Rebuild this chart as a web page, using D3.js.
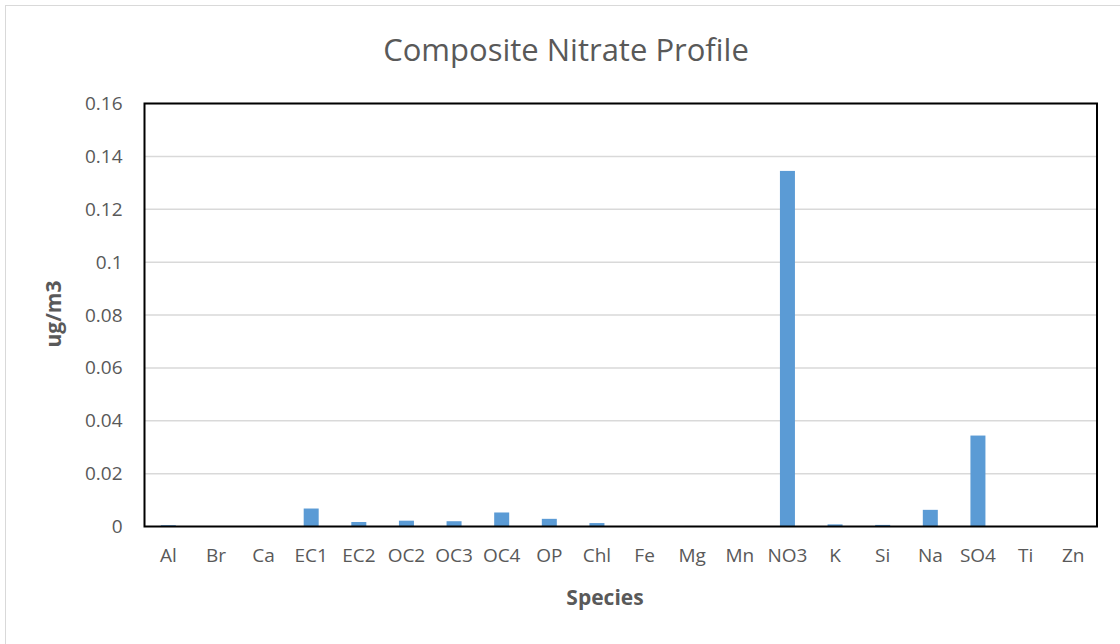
<!DOCTYPE html>
<html>
<head>
<meta charset="utf-8">
<script src="https://cdn.jsdelivr.net/npm/d3@7"></script>
<style>
  body { margin: 0; background: #fff; }
  text { font-family: "Open Sans", sans-serif; fill: #595959; }
</style>
</head>
<body>
<div id="container"></div>
<script>
/* DATA */
const species = ["Al", "Br", "Ca", "EC1", "EC2", "OC2", "OC3", "OC4", "OP", "Chl",
                 "Fe", "Mg", "Mn", "NO3", "K", "Si", "Na", "SO4", "Ti", "Zn"]
const concentration = [0.0005, 0, 0.0002, 0.0068, 0.0017, 0.0022, 0.002, 0.0053, 0.0029, 0.0013,
                       0.0002, 0.0002, 0, 0.1345, 0.0008, 0.0006, 0.0063, 0.0344, 0, 0]
const yTicks = [0, 0.02, 0.04, 0.06, 0.08, 0.1, 0.12, 0.14, 0.16]

/* CONSTANTS */
const W = 1120, H = 644
const margin = {top: 103.5, right: 23, bottom: 117.5, left: 144.5}
const width = W - margin.left - margin.right
const height = H - margin.top - margin.bottom

const svg = d3.select("#container")
  .append("svg")
    .attr("width", W)
    .attr("height", H)

// chart border
svg.append("rect")
  .attr("x", 5.5).attr("y", 5.5)
  .attr("width", W).attr("height", H)
  .attr("fill", "none")
  .attr("stroke", "#d9d9d9")

const g = svg.append("g")
  .attr("transform", "translate(" + margin.left + "," + margin.top + ")")

// SCALES
const xScale = d3.scaleBand()
  .domain(species)
  .range([0, width])
  .paddingInner(0.685)
  .paddingOuter(0.3425)

const yScale = d3.scaleLinear()
  .domain([0, 0.16])
  .range([height, 0])

// gridlines
g.append("g")
  .selectAll("line")
  .data(yTicks.slice(1))
  .join("line")
    .attr("x1", 0)
    .attr("x2", width)
    .attr("y1", d => yScale(d))
    .attr("y2", d => yScale(d))
    .attr("stroke", "#d9d9d9")
    .attr("stroke-width", 1.5)

// bars
g.append("g")
  .selectAll("rect")
  .data(species)
  .join("rect")
    .attr("x", d => xScale(d))
    .attr("y", (d, i) => yScale(concentration[i]))
    .attr("width", xScale.bandwidth())
    .attr("height", (d, i) => height - yScale(concentration[i]))
    .attr("fill", "#5b9bd5")

// plot border
g.append("rect")
  .attr("width", width)
  .attr("height", height)
  .attr("fill", "none")
  .attr("stroke", "#000")
  .attr("stroke-width", 2)

// axes
const yAxis = g.append("g")
  .call(d3.axisLeft(yScale).tickValues(yTicks).tickFormat(d => d3.format("")(+d.toFixed(2))).tickSize(0).tickPadding(22))
yAxis.select(".domain").remove()
yAxis.selectAll("text")
  .style("font-size", "19px")
  .attr("fill", "#595959")

const xAxis = g.append("g")
  .attr("transform", "translate(0," + height + ")")
  .call(d3.axisBottom(xScale).tickSize(0).tickPadding(22))
xAxis.select(".domain").remove()
xAxis.selectAll("text")
  .style("font-size", "19px")
  .attr("fill", "#595959")

// titles
svg.append("text")
  .attr("x", 566)
  .attr("y", 61)
  .attr("text-anchor", "middle")
  .style("font-size", "31px")
  .text("Composite Nitrate Profile")

svg.append("text")
  .attr("x", 605)
  .attr("y", 605)
  .attr("text-anchor", "middle")
  .style("font-size", "21px")
  .style("font-weight", "bold")
  .text("Species")

svg.append("text")
  .attr("transform", "translate(61,314) rotate(-90)")
  .attr("text-anchor", "middle")
  .style("font-size", "21px")
  .style("font-weight", "bold")
  .text("ug/m3")
</script>
</body>
</html>
